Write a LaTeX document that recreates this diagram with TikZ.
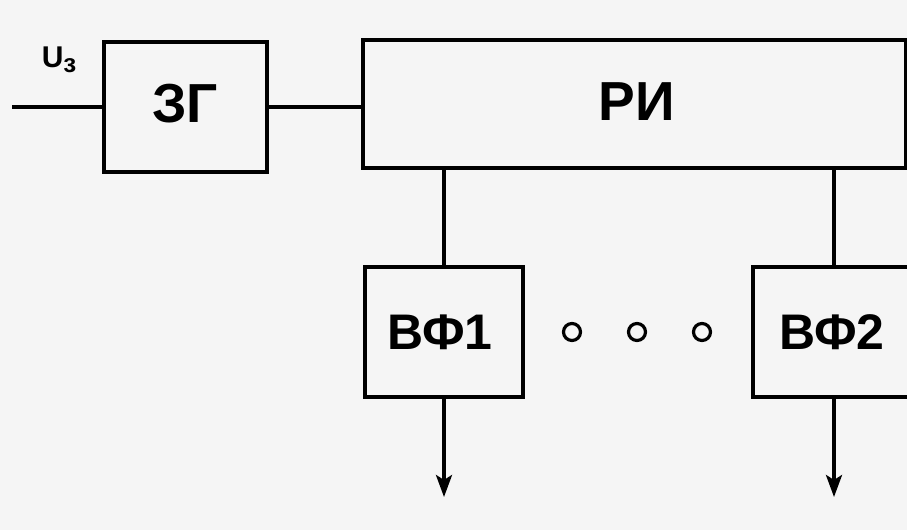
\documentclass[tikz,border=0pt]{standalone}
\usepackage{fontspec}
\setmainfont{Liberation Sans}
\usetikzlibrary{arrows.meta}
\definecolor{paper}{RGB}{245,245,245}
\begin{document}
\begin{tikzpicture}[x=1pt,y=-1pt,
  line width=3.5pt,
  blk/.style={draw, rectangle, inner sep=0pt},
  bigtxt/.style={inner sep=0pt, font=\fontsize{55}{55}\selectfont\bfseries},
  midtxt/.style={inner sep=0pt, font=\fontsize{50}{50}\selectfont\bfseries},
  dot/.style={draw, circle, line width=3.2pt, minimum size=17pt, inner sep=0pt},
  outarrow/.style={-{Stealth[length=22pt,width=16pt,inset=5pt]}}]
\useasboundingbox (0,0) rectangle (907,530);
\clip (0,0) rectangle (907,530);
\fill[paper] (0,0) rectangle (907,530);
\node[blk, minimum width=163pt, minimum height=130pt] (zg) at (185.5,107) {};
\node[blk, minimum width=543pt, minimum height=128pt] (ri) at (634.5,104) {};
\node[blk, minimum width=158pt, minimum height=130pt] (vf1) at (444,332) {};
\node[blk, minimum width=162pt, minimum height=130pt] (vf2) at (834,332) {};
\node[bigtxt] (tzg) at (185,103.5) {ЗГ};
\node[bigtxt] (tri) at (637,102) {РИ};
\node[midtxt] (tvf1) at (440,332.5) {ВФ1};
\node[midtxt] (tvf2) at (832,332.5) {ВФ2};
\coordinate (in) at (12,107);
\coordinate (o1) at (444,497);
\coordinate (o2) at (834,497);
\node[anchor=base west, inner sep=0pt, font=\fontsize{30}{30}\selectfont\bfseries] (u) at (40,67) {U\raisebox{-5pt}{\fontsize{26}{26}\selectfont з}};
\node[dot] (c1) at (572,332) {};
\node[dot] (c2) at (637,332) {};
\node[dot] (c3) at (702,332) {};
\draw (in) -- (zg.west);
\draw (zg.east) -- (zg.east -| ri.west);
\draw (vf1.north) -- (vf1.north |- ri.south);
\draw (vf2.north) -- (vf2.north |- ri.south);
\draw[outarrow] (vf1.south) -- (o1);
\draw[outarrow] (vf2.south) -- (o2);
\end{tikzpicture}
\end{document}
